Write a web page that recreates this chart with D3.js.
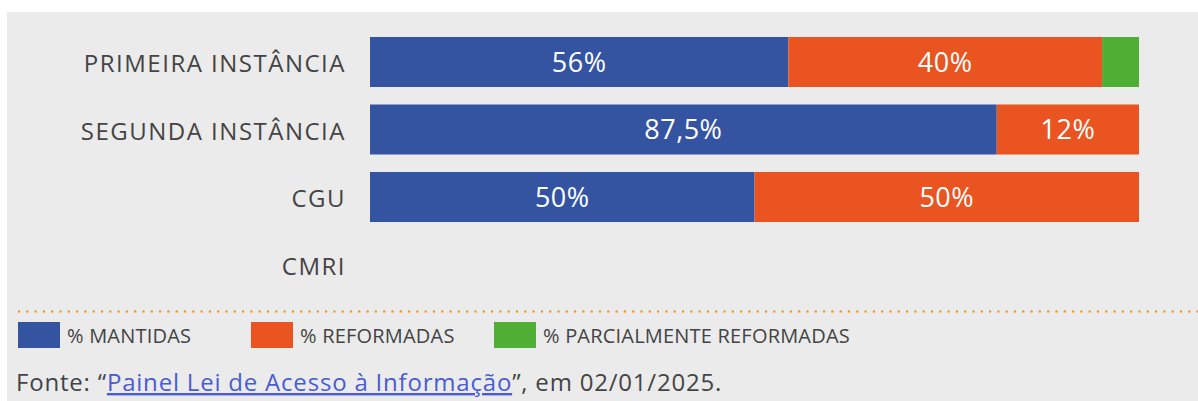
<!DOCTYPE html>
<html><head><meta charset="utf-8">
<script src="https://cdn.jsdelivr.net/npm/d3@7"></script>
<style>
html,body{margin:0;padding:0;background:#fff;}
svg{display:block;}
</style></head>
<body>
<svg id="chart" width="1198" height="401"></svg>
<script>
const categories = ["PRIMEIRA INSTÂNCIA", "SEGUNDA INSTÂNCIA", "CGU", "CMRI"];
const mantidas = [54.4, 81.5, 50, 0];
const reformadas = [40.8, 18.5, 50, 0];
const parciais = [4.8, 0, 0, 0];
const mantidasLabels = ["56%", "87,5%", "50%", ""];
const reformadasLabels = ["40%", "12%", "50%", ""];
const parciaisLabels = ["", "", "", ""];
const seriesNames = ["% MANTIDAS", "% REFORMADAS", "% PARCIALMENTE REFORMADAS"];
const colors = ["#3454a2", "#e95420", "#4fae34"];

const svg = d3.select("#chart");
const font = "'Open Sans', sans-serif";

svg.append("rect").attr("x", 7).attr("y", 12).attr("width", 1198).attr("height", 401).attr("fill", "#ebebeb");

const rows = categories.map((c, i) => ({cat: c, m: mantidas[i], r: reformadas[i], p: parciais[i]}));
const keys = ["m", "r", "p"];
const labelSets = {m: mantidasLabels, r: reformadasLabels, p: parciaisLabels};
const stack = d3.stack().keys(keys)(rows);

const x = d3.scaleLinear().domain([0, 100]).range([370, 1139]);
const y = d3.scaleBand().domain(categories).range([37, 289.5]).paddingInner(0.2593).paddingOuter(0);

const g = svg.append("g");
stack.forEach((layer, li) => {
  const lg = g.append("g").attr("fill", colors[li]);
  lg.selectAll("rect").data(layer).join("rect")
    .attr("x", d => x(d[0]))
    .attr("y", d => y(d.data.cat))
    .attr("width", d => Math.max(0, x(d[1]) - x(d[0])))
    .attr("height", y.bandwidth());
  g.append("g").selectAll("text").data(layer).join("text")
    .attr("x", d => (x(d[0]) + x(d[1])) / 2)
    .attr("y", d => y(d.data.cat) + y.bandwidth() / 2)
    .attr("dy", "0.36em")
    .attr("text-anchor", "middle")
    .attr("fill", "#fff")
    .attr("font-family", font)
    .attr("font-size", 27)
    .attr("letter-spacing", 0.5)
    .text((d, i) => labelSets[layer.key][i]);
});

// category axis labels
const yAxis = d3.axisLeft(y).tickSize(0).tickPadding(24);
const ax = svg.append("g").attr("transform", `translate(370,0)`).call(yAxis);
ax.select(".domain").remove();
ax.selectAll("text").attr("font-family", font).attr("font-size", 24).attr("fill", "#444")
  .attr("dy", "0.42em").attr("letter-spacing", 1.5);

// dotted separator
svg.append("line").attr("x1", 19).attr("x2", 1198).attr("y1", 311.5).attr("y2", 311.5)
  .attr("stroke", "#f39322").attr("stroke-width", 2.4).attr("stroke-linecap", "round")
  .attr("stroke-dasharray", "0 8.3");

// legend
const legendX = [18, 251, 494];
const lg = svg.append("g");
seriesNames.forEach((n, i) => {
  lg.append("rect").attr("x", legendX[i]).attr("y", 322).attr("width", 42).attr("height", 26).attr("fill", colors[i]);
  lg.append("text").attr("x", legendX[i] + 49).attr("y", 343).attr("font-family", font).attr("font-size", 20)
    .attr("fill", "#444").attr("letter-spacing", 0.2).text(n);
});

// footer
const ft = svg.append("text").attr("x", 16).attr("y", 391).attr("font-family", font).attr("font-size", 24)
  .attr("fill", "#444").attr("letter-spacing", 0.8);
ft.append("tspan").text("Fonte: “");
ft.append("tspan").attr("fill", "#4a5bd6").attr("text-decoration", "underline").text("Painel Lei de Acesso à Informação");
ft.append("tspan").text("”, em 02/01/2025.");
</script>
</body></html>
